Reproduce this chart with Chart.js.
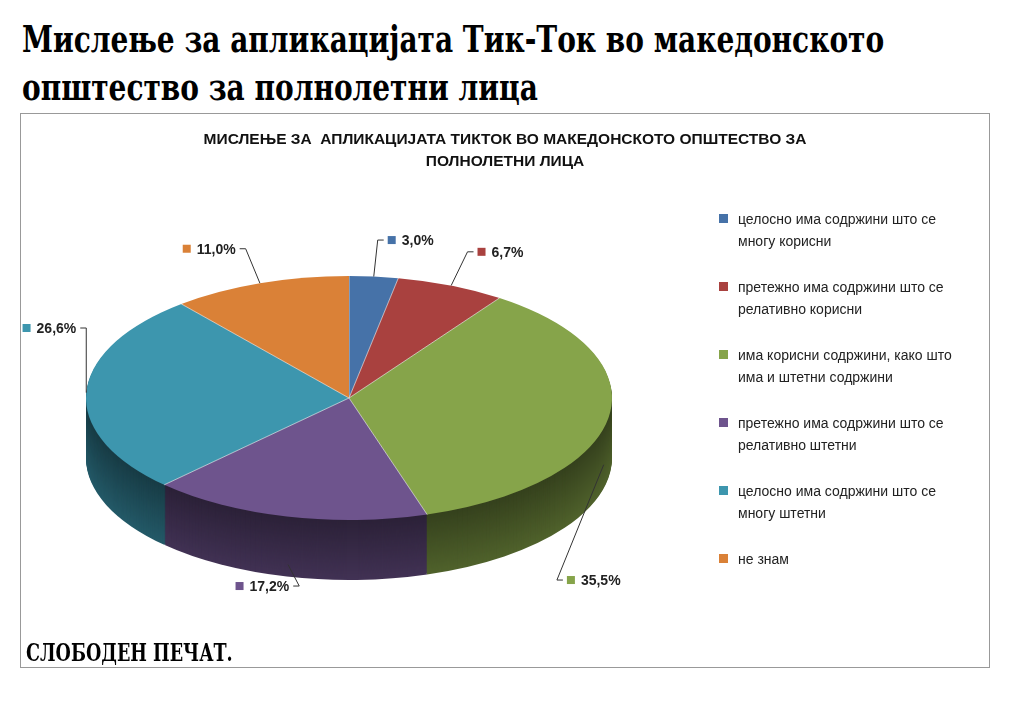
<!DOCTYPE html>
<html><head><meta charset="utf-8">
<script src="https://cdn.jsdelivr.net/npm/chart.js@4"></script>
<style>
body{margin:0;background:#fff;width:1024px;height:701px;overflow:hidden;font-family:"Liberation Sans",Arial,sans-serif}
.fit{position:absolute;white-space:nowrap;font-family:"DejaVu Serif Condensed","DejaVu Sans Condensed",serif;font-weight:bold;color:#000;transform-origin:left top}
#t1{left:22px;top:16px;font-size:38px}
#t2{left:22px;top:64px;font-size:38px}
#box{position:absolute;left:20px;top:113px;width:968px;height:553px;border:1px solid #999}
#ct{position:absolute;left:0;width:968px;top:14px;text-align:center;font-weight:bold;font-size:15.5px;line-height:22px;color:#111}
#cw{position:absolute;left:0;top:0;width:970px;height:555px}
#lg{position:absolute;left:698px;top:94px;width:270px;font-size:14px;line-height:22px;color:#222}
.li{position:relative;padding-left:19px;height:68px}
.li span{position:absolute;left:0;top:6px;width:9px;height:9px}
#src{left:26px;top:638px;font-size:24px}
</style></head><body>
<div class="fit" id="t1" data-w="862">Мислење за апликацијата Тик-Ток во македонското</div>
<div class="fit" id="t2" data-w="516">општество за полнолетни лица</div>
<div id="box"><div id="cw"><canvas id="c"></canvas></div>
<div id="ct">МИСЛЕЊЕ ЗА&nbsp; АПЛИКАЦИЈАТА ТИКТОК ВО МАКЕДОНСКОТО ОПШТЕСТВО ЗА<br>ПОЛНОЛЕТНИ ЛИЦА</div>
<div id="lg"></div></div>
<div class="fit" id="src" data-w="207">СЛОБОДЕН ПЕЧАТ.</div>
<script>
document.querySelectorAll('.fit').forEach(e=>{e.style.transform='scaleX('+(e.dataset.w/e.offsetWidth)+')';});
const categories=[["целосно има содржини што се","многу корисни"],["претежно има содржини што се","релативно корисни"],["има корисни содржини, како што","има и штетни содржини"],["претежно има содржини што се","релативно штетни"],["целосно има содржини што се","многу штетни"],["не знам"]];
const values=[3.0,6.7,35.5,17.2,26.6,11.0];
const valueLabels=["3,0%","6,7%","35,5%","17,2%","26,6%","11,0%"];
const colors=["#4672A8","#A9413F","#86A44A","#6E548D","#3D96AE","#DA8137"];
const lg=document.getElementById('lg');
categories.forEach((c,i)=>{const d=document.createElement('div');d.className='li';d.innerHTML='<span style="background:'+colors[i]+'"></span>'+c.join('<br>');lg.appendChild(d);});
function dark(h,f){const n=parseInt(h.slice(1),16);return `rgb(${((n>>16)&255)*f|0},${((n>>8)&255)*f|0},${(n&255)*f|0})`;}
const K=0.464, CY=284, DEPTH=60;
const pie3d={id:'pie3d',beforeDatasetsDraw(chart){
  const ctx=chart.ctx, arcs=chart.getDatasetMeta(0).data;
  const cy=arcs[0].y;
  const slice=(a,dy,col)=>{ctx.save();ctx.translate(0,CY+dy-cy*K);ctx.scale(1,K);
    ctx.beginPath();ctx.moveTo(a.x,a.y);ctx.arc(a.x,a.y,a.outerRadius,a.startAngle,a.endAngle);ctx.closePath();
    ctx.fillStyle=col;ctx.fill();ctx.restore();};
  for(let d=DEPTH;d>0;d--) arcs.forEach((a,i)=>slice(a,d,dark(colors[i],0.4+0.2*(d/DEPTH))));
  arcs.forEach((a,i)=>{slice(a,0,colors[i]);
    ctx.save();ctx.translate(0,CY-cy*K);ctx.scale(1,K);ctx.beginPath();ctx.moveTo(a.x,a.y);
    ctx.lineTo(a.x+a.outerRadius*Math.cos(a.startAngle),a.y+a.outerRadius*Math.sin(a.startAngle));
    ctx.restore();ctx.strokeStyle='rgba(255,255,255,0.6)';ctx.lineWidth=1;ctx.stroke();});
  ctx.font='bold 14px "Liberation Sans",Arial';ctx.textBaseline='middle';
  arcs.forEach((a,i)=>{const m=(a.startAngle+a.endAngle)/2, r=a.outerRadius, sn=Math.sin(m), cs=Math.cos(m);
    let ex,ey,lx,ly,right;
    if(sn>0.05){ex=a.x+r*cs*0.98;ey=CY+r*K*sn+DEPTH*0.8;lx=a.x+r*0.8*cs;ly=CY+r*K+DEPTH+(cs<0?6:0);right=cs>=0;}
    else{ex=a.x+r*cs;ey=CY+r*K*sn;lx=a.x+r*(Math.abs(cs)>0.9?1.0:1.16)*cs;ly=Math.min(CY+r*K*1.3*sn,CY-70);right=cs>=0;}
    ctx.strokeStyle='#333';ctx.lineWidth=1;ctx.beginPath();ctx.moveTo(ex,ey);ctx.lineTo(lx,ly);
    const tx=right?lx+6:lx-6;ctx.lineTo(tx,ly);ctx.stroke();
    const w=ctx.measureText(valueLabels[i]).width;
    const bx=right?tx+4:tx-4-w-14;
    ctx.fillStyle=colors[i];ctx.fillRect(bx,ly-4,8,8);
    ctx.fillStyle='#222';ctx.fillText(valueLabels[i],bx+14,ly+1);});
  return false;}};
new Chart(document.getElementById('c'),{type:'pie',
 data:{labels:categories.map(c=>c.join(' ')),datasets:[{data:values,backgroundColor:colors,borderWidth:0}]},
 options:{responsive:true,maintainAspectRatio:false,animation:false,
  layout:{padding:{left:65,right:379,top:0,bottom:29}},
  plugins:{legend:{display:false},tooltip:{enabled:false}}},
 plugins:[pie3d]});
</script></body></html>
